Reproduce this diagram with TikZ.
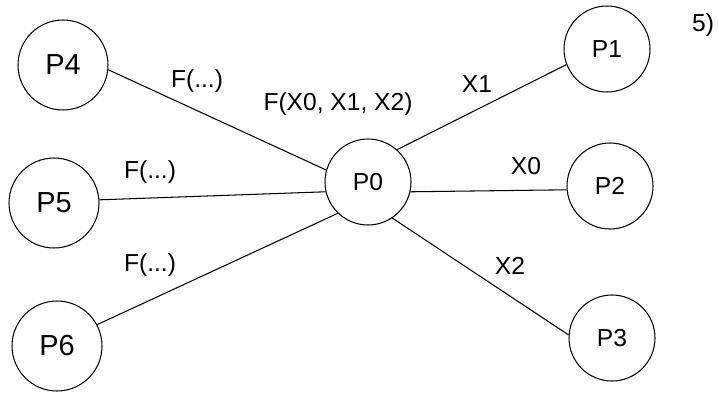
\documentclass[tikz,border=0pt]{standalone}
\usepackage{fontspec}
\setmainfont{Liberation Sans}
\usepackage{tikz}
\tikzset{
         proc/.style={draw, circle, line width=0.6pt, minimum size=1.72cm, inner sep=0pt,
                      font=\fontsize{14}{16}\selectfont},
         bigproc/.style={proc, minimum size=1.8cm, font=\fontsize{16.5}{18}\selectfont},
         lbl/.style={inner sep=0pt, font=\fontsize{14}{16}\selectfont},
         link/.style={line width=0.6pt},
}

\begin{document}
\begin{tikzpicture}[x=0.02cm, y=-0.02cm]
    \useasboundingbox (0,0) rectangle (719,392);

    % Sender links
    \node[bigproc] (p4) at (63,65)  {P4};
    \node[bigproc] (p5) at (54,203) {P5};
    \node[bigproc] (p6) at (57,346) {P6};

    % Mitte
    \node[proc] (p0) at (368,182) {P0};

    % Empfaenger rechts
    \node[proc] (p1) at (607,49)  {P1};
    \node[proc] (p2) at (610,186) {P2};
    \node[proc] (p3) at (612,338) {P3};

    % Verbindungen
    \draw[link] (p4.-6) -- (p0.164);
    \draw[link] (p5.4)  -- (p0.193);
    \draw[link] (p6.28) -- (p0.226);
    \draw[link] (p0.48)  -- (p1.201);
    \draw[link] (p0.-13) -- (p2.185);
    \draw[link] (p0.-56) -- (p3.176);

    % Beschriftungen
    \node[lbl] (f4) at (197,81)  {F(...)};
    \node[lbl] (f5) at (150,172) {F(...)};
    \node[lbl] (f6) at (150,265) {F(...)};
    \node[lbl] (fx) at (338,104) {F(X0, X1, X2)};
    \node[lbl] (x1) at (477,84)  {X1};
    \node[lbl] (x0) at (526,166) {X0};
    \node[lbl] (x2) at (510,266) {X2};
    \node[lbl] (nr) at (703,25)  {5)};
\end{tikzpicture}
\end{document}
